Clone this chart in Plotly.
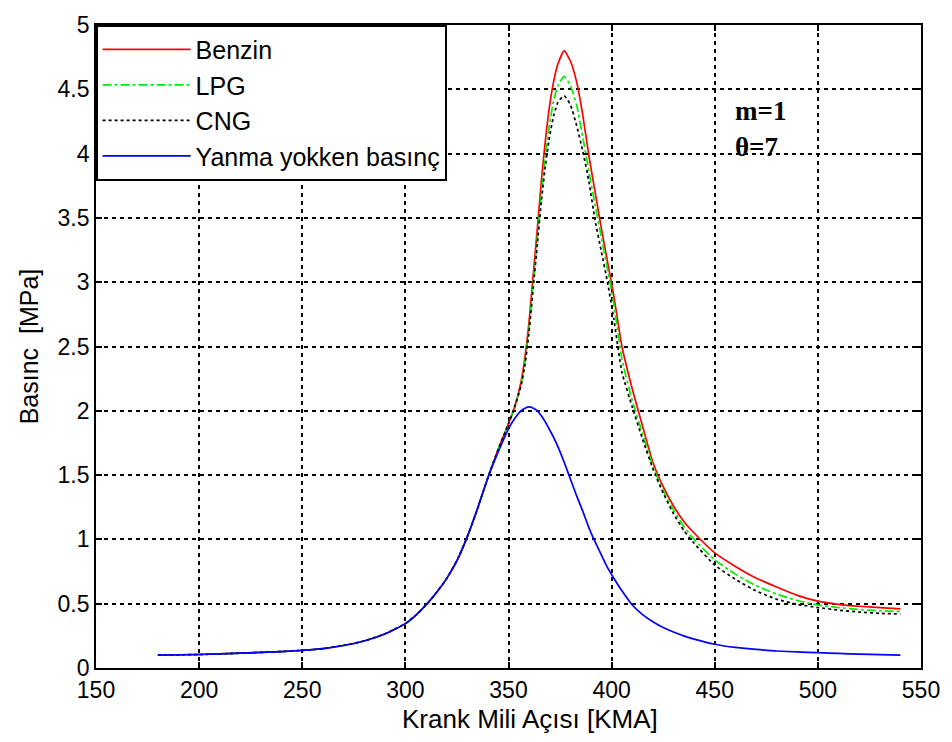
import plotly.graph_objects as go

# Crank angle grid [KMA]
theta = [180, 200, 220, 240, 250, 260, 270, 280, 290, 300, 305, 310, 315, 320, 325,
         330, 335, 340, 345, 350, 353, 356, 358, 360, 362, 364, 366, 368, 370, 372,
         374, 377, 380, 383, 386, 389, 392, 395, 398, 401, 405, 410, 415, 420, 425,
         430, 435, 440, 450, 460, 470, 480, 490, 500, 510, 520, 530, 540]

# Motoring pressure (no combustion) [MPa]
p_motor = [0.10, 0.105, 0.115, 0.128, 0.137, 0.15, 0.175, 0.21, 0.265, 0.345, 0.41, 0.49, 0.585, 0.695, 0.835,
           1.02, 1.24, 1.48, 1.68, 1.86, 1.94, 2.00, 2.02, 2.03, 2.02, 2.00, 1.96, 1.91, 1.85, 1.79,
           1.72, 1.60, 1.47, 1.34, 1.22, 1.09, 0.98, 0.88, 0.78, 0.70, 0.60, 0.49, 0.415, 0.36, 0.315,
           0.28, 0.25, 0.225, 0.185, 0.16, 0.145, 0.132, 0.125, 0.119, 0.113, 0.108, 0.104, 0.10]

p_benzin = [0.10, 0.105, 0.115, 0.128, 0.137, 0.15, 0.175, 0.21, 0.265, 0.345, 0.41, 0.49, 0.585, 0.695, 0.835,
            1.02, 1.24, 1.48, 1.70, 1.90, 2.03, 2.22, 2.42, 2.70, 3.06, 3.42, 3.80, 4.12, 4.38, 4.57,
            4.70, 4.80, 4.72, 4.56, 4.30, 3.98, 3.70, 3.42, 3.16, 2.90, 2.50, 2.17, 1.88, 1.60, 1.41,
            1.26, 1.14, 1.05, 0.895, 0.79, 0.70, 0.63, 0.565, 0.52, 0.495, 0.48, 0.47, 0.46]

p_lpg = [0.10, 0.105, 0.115, 0.128, 0.137, 0.15, 0.175, 0.21, 0.265, 0.345, 0.41, 0.49, 0.585, 0.695, 0.835,
         1.02, 1.24, 1.48, 1.70, 1.90, 2.03, 2.20, 2.38, 2.65, 3.00, 3.35, 3.70, 4.00, 4.24, 4.42,
         4.53, 4.60, 4.53, 4.38, 4.13, 3.86, 3.60, 3.35, 3.10, 2.84, 2.40, 2.08, 1.82, 1.57, 1.38,
         1.23, 1.10, 1.00, 0.84, 0.73, 0.64, 0.575, 0.525, 0.49, 0.47, 0.455, 0.445, 0.44]

p_cng = [0.10, 0.105, 0.115, 0.128, 0.137, 0.15, 0.175, 0.21, 0.265, 0.345, 0.41, 0.49, 0.585, 0.695, 0.835,
         1.02, 1.24, 1.48, 1.70, 1.90, 2.03, 2.19, 2.36, 2.62, 2.96, 3.30, 3.64, 3.92, 4.14, 4.30,
         4.40, 4.45, 4.38, 4.22, 4.02, 3.78, 3.48, 3.24, 3.00, 2.72, 2.30, 2.03, 1.78, 1.55, 1.36,
         1.20, 1.07, 0.97, 0.80, 0.69, 0.60, 0.535, 0.495, 0.47, 0.45, 0.435, 0.425, 0.42]

series_names = ["Benzin", "LPG", "CNG", "Yanma yokken basınç"]
x_ticks = [150, 200, 250, 300, 350, 400, 450, 500, 550]
y_ticks = [0, 0.5, 1, 1.5, 2, 2.5, 3, 3.5, 4, 4.5, 5]

SM = 0.5
fig = go.Figure()
fig.add_trace(go.Scatter(x=theta, y=p_benzin, name=series_names[0], mode="lines",
                         line=dict(color="#ff0000", width=1.7, shape="spline", smoothing=SM)))
fig.add_trace(go.Scatter(x=theta, y=p_lpg, name=series_names[1], mode="lines",
                         line=dict(color="#00ee00", width=1.7, dash="dashdot", shape="spline", smoothing=SM)))
fig.add_trace(go.Scatter(x=theta, y=p_cng, name=series_names[2], mode="lines",
                         line=dict(color="#000000", width=1.7, dash="dot", shape="spline", smoothing=SM)))
fig.add_trace(go.Scatter(x=theta, y=p_motor, name=series_names[3], mode="lines",
                         line=dict(color="#0000ff", width=1.7, shape="spline", smoothing=SM)))

font_main = "Liberation Sans, Arial, sans-serif"

axis_common = dict(
    showline=True, linecolor="black", linewidth=1.8, mirror="ticks",
    ticks="inside", ticklen=6, tickwidth=1.6, tickcolor="black",
    showgrid=True, gridcolor="black", gridwidth=1.6, griddash="4px,4px",
    zeroline=False,
    tickfont=dict(family=font_main, size=23, color="black"),
)

fig.update_xaxes(range=[150, 550], tickvals=x_ticks, **axis_common)
fig.update_yaxes(range=[0, 5], tickvals=y_ticks,
                 title=dict(text="Basınc  [MPa]", standoff=12,
                            font=dict(family=font_main, size=25, color="black")),
                 **axis_common)

# x-axis title (placed slightly right of centre, as in the reference)
fig.add_annotation(x=0.526, y=-0.079, xref="paper", yref="paper", text="Krank Mili Açısı [KMA]",
                   showarrow=False, xanchor="center", yanchor="middle",
                   font=dict(family=font_main, size=26, color="black"))

fig.add_annotation(x=459, y=4.33, xref="x", yref="y", text="<b>m=1</b>", showarrow=False,
                   xanchor="left", yanchor="middle",
                   font=dict(family="Liberation Serif, Times New Roman, serif", size=27, color="black"))
fig.add_annotation(x=459, y=4.05, xref="x", yref="y", text="<b>θ=7</b>", showarrow=False,
                   xanchor="left", yanchor="middle",
                   font=dict(family="Liberation Serif, Times New Roman, serif", size=27, color="black"))

fig.update_layout(
    width=952, height=742,
    margin=dict(l=96, r=25, t=12, b=74),
    paper_bgcolor="white", plot_bgcolor="white",
    showlegend=True,
    legend=dict(x=0, y=1, xanchor="left", yanchor="top",
                bgcolor="white", bordercolor="black", borderwidth=1.6,
                font=dict(family=font_main, size=25, color="black"),
                tracegroupgap=0, itemwidth=88),
)

fig.write_html("out.html")
